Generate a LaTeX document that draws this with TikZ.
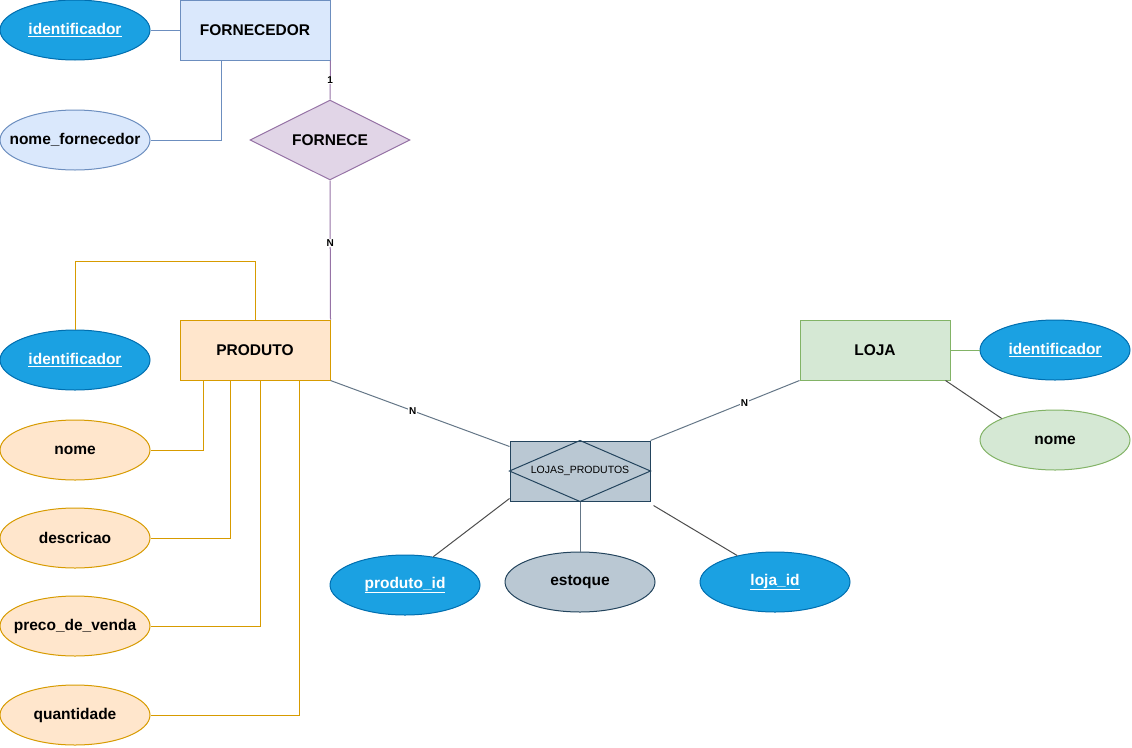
\documentclass[tikz,border=0pt]{standalone}
\usepackage{fontspec}
\setmainfont{Liberation Sans}
\usepackage{tikz}
\usepackage{xcolor}
\usetikzlibrary{shapes.geometric}

\definecolor{keyfill}{HTML}{1BA1E2}
\definecolor{keyline}{HTML}{006EAF}
\definecolor{bluefill}{HTML}{DAE8FC}
\definecolor{blueline}{HTML}{6C8EBF}
\definecolor{purplefill}{HTML}{E1D5E7}
\definecolor{purpleline}{HTML}{9673A6}
\definecolor{orangefill}{HTML}{FFE6CC}
\definecolor{orangeline}{HTML}{D79B00}
\definecolor{greenfill}{HTML}{D5E8D4}
\definecolor{greenline}{HTML}{82B366}
\definecolor{grayfill}{HTML}{BAC8D3}
\definecolor{grayline}{HTML}{23445D}
\definecolor{slateline}{HTML}{647687}
\definecolor{darkline}{HTML}{4D4D4D}

\newcommand{\attrtext}[1]{\makebox[0pt]{#1}}

\begin{document}
\begin{tikzpicture}[x=1pt,y=-1pt,line width=1pt,
  entity/.style={rectangle,draw,minimum width=150pt,minimum height=60pt,inner sep=0pt,font=\bfseries\fontsize{15.5}{18}\selectfont},
  attrib/.style={ellipse,draw,minimum width=150pt,minimum height=60pt,inner sep=0pt,font=\bfseries\fontsize{15.5}{18}\selectfont},
  keyattr/.style={attrib,fill=keyfill,draw=keyline,text=white},
  card/.style={fill=white,text=black,inner sep=1pt,font=\bfseries\fontsize{10}{12}\selectfont}]
\useasboundingbox (0,0) rectangle (1132,747);

\node[entity,fill=bluefill,draw=blueline] (forn) at (255,30) {FORNECEDOR};
\node[keyattr] (fid) at (75,30) {\attrtext{\underline{identificador}}};
\node[attrib,fill=bluefill,draw=blueline] (fnome) at (75,140) {\attrtext{nome\_fornecedor}};
\node[diamond,aspect=2,draw=purpleline,fill=purplefill,minimum width=160pt,minimum height=80pt,inner sep=0pt,font=\bfseries\fontsize{15.5}{18}\selectfont] (fornece) at (330,140) {FORNECE};

\node[entity,fill=orangefill,draw=orangeline] (prod) at (255,350) {PRODUTO};
\node[keyattr] (pid) at (75,360) {\attrtext{\underline{identificador}}};
\node[attrib,fill=orangefill,draw=orangeline] (pnome) at (75,450) {\attrtext{nome}};
\node[attrib,fill=orangefill,draw=orangeline] (pdesc) at (75,538) {\attrtext{descricao}};
\node[attrib,fill=orangefill,draw=orangeline] (ppreco) at (75,626) {\attrtext{preco\_de\_venda}};
\node[attrib,fill=orangefill,draw=orangeline] (pquant) at (75,715) {\attrtext{quantidade}};

\node[entity,fill=greenfill,draw=greenline] (loja) at (875,350) {LOJA};
\node[keyattr] (lid) at (1055,350) {\attrtext{\underline{identificador}}};
\node[attrib,fill=greenfill,draw=greenline] (lnome) at (1055,440) {\attrtext{nome}};

\node[rectangle,draw=grayline,fill=grayfill,minimum width=140pt,minimum height=60pt,inner sep=0pt] (lp) at (580,471) {};
\draw[grayline] (lp.north) -- (lp.east) -- (lp.south) -- (lp.west) -- cycle;
\node[font=\fontsize{10.5}{12}\selectfont] at (lp) {LOJAS\_PRODUTOS};
\node[keyattr] (lpprod) at (405,585) {\attrtext{\underline{produto\_id}}};
\node[attrib,fill=grayfill,draw=grayline] (lpest) at (580,582) {\attrtext{estoque}};
\node[keyattr] (lploja) at (775,582) {\attrtext{\underline{loja\_id}}};

\draw[blueline] (fid.east) -- (forn.west);
\draw[blueline] (fnome.east) -| ([xshift=-34pt]forn.south);
\draw[purpleline] (forn.south east) -- node[card] {1} (fornece.north);
\draw[purpleline] (fornece.south) -- node[card,pos=0.45] {N} (prod.north east);

\draw[orangeline] (pid.north) -- ++(0,-68) -| (prod.north);
\draw[orangeline] (pnome.east) -| ([xshift=-52pt]prod.south);
\draw[orangeline] (pdesc.east) -| ([xshift=-25pt]prod.south);
\draw[orangeline] (ppreco.east) -| ([xshift=5pt]prod.south);
\draw[orangeline] (pquant.east) -| ([xshift=44pt]prod.south);

\draw[slateline] (prod.south east) -- node[card,pos=0.46] {N} ([yshift=-6pt]lp.north west);
\draw[slateline] (loja.south west) -- node[card,pos=0.37] {N} (lp.north east);
\draw[greenline] (lid.west) -- (loja.east);
\draw[darkline] ([xshift=-5pt]loja.south east) -- (lnome.north west);

\draw[darkline] ([yshift=3pt]lp.south west) -- (lpprod.45);
\draw[slateline] (lp.south) -- (lpest.north);
\draw[darkline] ([xshift=3pt,yshift=-4pt]lp.south east) -- (lploja.145);
\end{tikzpicture}
\end{document}
